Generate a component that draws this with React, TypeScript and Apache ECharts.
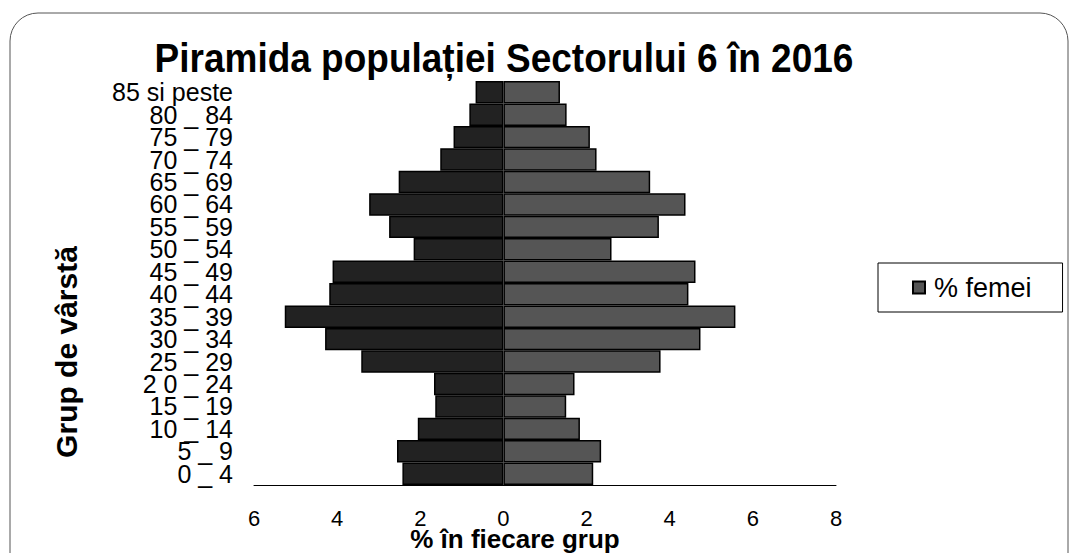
import React, { useEffect, useRef } from "react";
import * as echarts from "echarts";

const categories = [
  "0 _ 4",
  "5 _ 9",
  "10 _ 14",
  "15 _ 19",
  "2 0 _ 24",
  "25 _ 29",
  "30 _ 34",
  "35 _ 39",
  "40 _ 44",
  "45 _ 49",
  "50 _ 54",
  "55 _ 59",
  "60 _ 64",
  "65 _ 69",
  "70 _ 74",
  "75 _ 79",
  "80 _ 84",
  "85 si peste",
];

// % barbati (drawn to the left, stored as positive values)
const menValues = [2.43, 2.56, 2.06, 1.64, 1.67, 3.42, 4.29, 5.26, 4.19, 4.11, 2.16, 2.75, 3.23, 2.52, 1.52, 1.2, 0.82, 0.67];
// % femei
const womenValues = [2.16, 2.35, 1.84, 1.51, 1.71, 3.78, 4.74, 5.58, 4.45, 4.62, 2.6, 3.74, 4.38, 3.53, 2.24, 2.08, 1.52, 1.36];

const xMin = -6;
const xMax = 8;
const xInterval = 2;

const titleText = "Piramida populației Sectorului 6 în 2016";
const xAxisTitle = "% în fiecare grup";
const yAxisTitle = "Grup de vârstă";
const menName = "% barbati";
const womenName = "% femei";

const FONT = "'Liberation Sans', Arial, sans-serif";

export default function App() {
  const ref = useRef<HTMLDivElement>(null);

  useEffect(() => {
    if (!ref.current) return;
    const chart = echarts.init(ref.current, null, { renderer: "svg" });
    chart.setOption({
      animation: false,
      backgroundColor: "#ffffff",
      textStyle: { fontFamily: FONT, color: "#000" },
      grid: {
        left: 254,
        right: 241,
        top: 81,
        bottom: 68,
        containLabel: false,
        outerBoundsMode: "none",
      },
      legend: {
        data: [womenName],
        left: 878,
        top: 263,
        orient: "vertical",
        padding: [11, 31, 11, 34],
        itemWidth: 12,
        itemHeight: 12,
        itemGap: 0,
        borderColor: "#000",
        borderWidth: 1,
        textStyle: { fontSize: 27, color: "#000", fontFamily: FONT, padding: [0, 0, 0, 4] },
        icon: "rect",
      },
      xAxis: {
        type: "value",
        min: xMin,
        max: xMax,
        interval: xInterval,
        axisLine: { show: true, lineStyle: { color: "#000", width: 1 } },
        axisTick: { show: false },
        splitLine: { show: false },
        axisLabel: {
          fontSize: 22,
          color: "#000",
          margin: 22,
          fontFamily: FONT,
          formatter: (v: number) => String(Math.abs(v)),
        },
      },
      yAxis: {
        type: "category",
        data: categories,
        axisLine: { show: false },
        axisTick: { show: false },
        axisLabel: {
          interval: 0,
          fontSize: 25,
          color: "#000",
          margin: 21,
          fontFamily: FONT,
          lineHeight: 22,
        },
      },
      series: [
        {
          name: menName,
          type: "bar",
          stack: "total",
          barCategoryGap: "0%",
          data: menValues.map((v) => -v),
          itemStyle: { color: "#222222", borderColor: "#000", borderWidth: 1.5 },
        },
        {
          name: womenName,
          type: "bar",
          stack: "total",
          barCategoryGap: "0%",
          data: womenValues,
          itemStyle: { color: "#555555", borderColor: "#000", borderWidth: 1.5 },
        },
      ],
      graphic: [
        {
          type: "rect",
          shape: { x: 10, y: 13, width: 1058, height: 620, r: 28 },
          style: { fill: "none", stroke: "#555", lineWidth: 1 },
          silent: true,
        },
        {
          type: "text",
          x: 504,
          y: 58,
          scaleY: 1.1,
          style: {
            text: titleText,
            fontSize: 37,
            fontWeight: "bold",
            fontFamily: FONT,
            fill: "#000",
            align: "center",
            verticalAlign: "middle",
          },
        },
        {
          type: "text",
          x: 515,
          y: 539,
          style: {
            text: xAxisTitle,
            fontSize: 26,
            fontWeight: "bold",
            fontFamily: FONT,
            fill: "#000",
            align: "center",
            verticalAlign: "middle",
          },
        },
        {
          type: "text",
          x: 66,
          y: 352,
          rotation: Math.PI / 2,
          style: {
            text: yAxisTitle,
            fontSize: 30,
            fontWeight: "bold",
            fontFamily: FONT,
            fill: "#000",
            align: "center",
            verticalAlign: "middle",
          },
        },
      ],
    });
    return () => chart.dispose();
  }, []);

  return (
    <div
      ref={ref}
      style={{ position: "fixed", left: 0, top: 0, width: 1077, height: 553 }}
    />
  );
}
